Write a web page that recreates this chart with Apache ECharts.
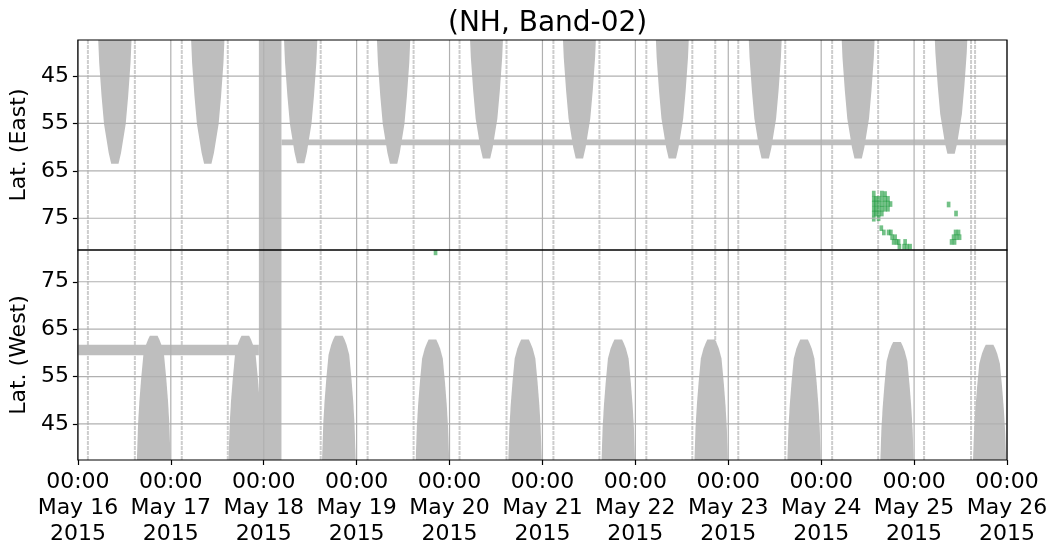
<!DOCTYPE html>
<html><head><meta charset="utf-8">
<script src="https://cdn.jsdelivr.net/npm/echarts@6/dist/echarts.min.js"></script>
<style>html,body{margin:0;padding:0;background:#fff}#c{width:1057px;height:556px}</style>
</head><body><div id="c"></div>
<script>
// ---------------- DATA ----------------
const TITLE = '(NH, Band-02)';
const X_START = '2015-05-16 00:00';
const X_END = '2015-05-26 00:00';
const LAT_RANGE = [37.4, 81.7];
const latTicks = [45, 55, 65, 75];
const xTickLabels = [
  '00:00\nMay 16\n2015', '00:00\nMay 17\n2015', '00:00\nMay 18\n2015', '00:00\nMay 19\n2015',
  '00:00\nMay 20\n2015', '00:00\nMay 21\n2015', '00:00\nMay 22\n2015', '00:00\nMay 23\n2015',
  '00:00\nMay 24\n2015', '00:00\nMay 25\n2015', '00:00\nMay 26\n2015'
];
const panelNames = ['Lat. (East)', 'Lat. (West)'];

// coverage lobes: [centre time, tip latitude]
const eastLobes = [
  ['2015-05-16 09:33', 63.5], ['2015-05-17 09:33', 63.5], ['2015-05-18 09:33', 63.4],
  ['2015-05-19 09:33', 63.5], ['2015-05-20 09:33', 62.4], ['2015-05-21 09:33', 62.4],
  ['2015-05-22 09:33', 62.4], ['2015-05-23 09:33', 62.4], ['2015-05-24 09:33', 62.4],
  ['2015-05-25 09:33', 61.4]
];
const westLobes = [
  ['2015-05-16 19:35', 63.6], ['2015-05-17 19:15', 63.6], ['2015-05-18 19:25', 63.6],
  ['2015-05-19 19:35', 62.8], ['2015-05-20 19:30', 62.8], ['2015-05-21 19:35', 62.8],
  ['2015-05-22 19:35', 62.8], ['2015-05-23 19:35', 62.8], ['2015-05-24 19:35', 62.3],
  ['2015-05-25 19:30', 61.7]
];
// lobe outline: [degrees from tip, half-width in hours]
const eastProfile = [[0, 0.95], [2.3, 1.6], [5.1, 2.15], [8.4, 2.8], [14.3, 3.44], [21.3, 4.05], [28, 4.4]];
const westProfile = [[0, 0.99], [0.8, 1.46], [1.9, 1.98], [4.0, 2.67], [8.9, 3.23], [13.8, 3.7], [18.6, 4.04], [28, 4.42]];

// continuous coverage blocks: [start, end, lat from, lat to]
const eastBlocks = [
  ['2015-05-17 22:45', '2015-05-18 04:35', 37.4, 81.7],
  ['2015-05-18 04:35', '2015-05-26 00:00', 58.4, 59.6]
];
const westBlocks = [
  ['2015-05-17 22:45', '2015-05-18 04:35', 37.4, 81.7],
  ['2015-05-16 00:00', '2015-05-17 22:45', 59.5, 61.7]
];
// thin full-height coverage traces (times)
const traceTimes = [
  '2015-05-16 02:35', '2015-05-16 14:43', '2015-05-17 02:50', '2015-05-17 14:43',
  '2015-05-18 14:43', '2015-05-19 02:50', '2015-05-19 14:43', '2015-05-20 02:35',
  '2015-05-20 14:43', '2015-05-21 02:50', '2015-05-21 14:43', '2015-05-22 02:50',
  '2015-05-22 14:43', '2015-05-22 20:38', '2015-05-23 02:35', '2015-05-23 14:43',
  '2015-05-24 02:50', '2015-05-24 14:43', '2015-05-25 02:35', '2015-05-25 14:43',
  '2015-05-25 15:45'
];
// detections (green): [time, lat]
const eastHits = [
  ['2015-05-24 13:35', 69.8], ['2015-05-24 13:35', 70.9], ['2015-05-24 13:35', 71.9], ['2015-05-24 13:35', 73.0],
  ['2015-05-24 13:35', 74.0], ['2015-05-24 13:35', 75.1],
  ['2015-05-24 14:05', 70.9], ['2015-05-24 14:05', 71.9], ['2015-05-24 14:05', 73.0], ['2015-05-24 14:05', 74.0],
  ['2015-05-24 14:50', 70.9], ['2015-05-24 14:50', 71.9], ['2015-05-24 14:50', 73.0], ['2015-05-24 14:50', 74.0], ['2015-05-24 14:50', 75.0],
  ['2015-05-24 15:40', 69.8], ['2015-05-24 15:40', 70.9], ['2015-05-24 15:40', 72.0], ['2015-05-24 15:40', 73.0], ['2015-05-24 15:40', 74.0],
  ['2015-05-24 16:30', 69.9], ['2015-05-24 16:30', 70.9], ['2015-05-24 16:30', 71.9], ['2015-05-24 16:30', 73.0],
  ['2015-05-24 17:15', 70.9], ['2015-05-24 17:15', 71.9], ['2015-05-24 17:15', 73.0],
  ['2015-05-24 17:55', 72.0],
  ['2015-05-24 15:32', 77.1], ['2015-05-24 16:11', 78.0], ['2015-05-24 17:25', 78.0], ['2015-05-24 18:00', 78.0],
  ['2015-05-24 18:19', 79.0], ['2015-05-24 19:06', 79.0],
  ['2015-05-24 18:43', 80.0], ['2015-05-24 19:29', 80.0], ['2015-05-24 20:00', 80.0],
  ['2015-05-24 20:12', 81.0], ['2015-05-24 21:25', 81.0], ['2015-05-24 22:12', 81.0], ['2015-05-24 22:58', 81.0],
  ['2015-05-24 21:41', 80.0],
  ['2015-05-25 08:55', 72.1], ['2015-05-25 10:50', 74.0],
  ['2015-05-25 10:43', 78.0], ['2015-05-25 11:29', 78.0],
  ['2015-05-25 10:12', 79.0], ['2015-05-25 10:58', 79.0], ['2015-05-25 11:45', 79.0],
  ['2015-05-25 09:41', 80.0], ['2015-05-25 10:27', 80.0]
];
const westHits = [['2015-05-19 20:23', 81.2]];

// ---------------- RENDER ----------------
const HOUR = 3600e3, DAY = 24 * HOUR;
function ms(s) {
  const [d, hm] = s.split(' ');
  const [Y, M, D] = d.split('-').map(Number);
  const [h, m] = (hm || '00:00').split(':').map(Number);
  return Date.UTC(Y, M - 1, D, h, m);
}
const X0 = ms(X_START), X1 = ms(X_END);
const FONT = 'DejaVu Sans';
const GRAY = '#bebebe';
const GREEN = 'rgba(40,160,70,0.65)';
const HIT_W = 0.95 * HOUR, HIT_H = 1.2;

function lobeSeries(idx, lobes, profile) {
  return {
    type: 'custom', xAxisIndex: idx, yAxisIndex: idx, clip: true, z: 2, silent: true,
    data: lobes.map(l => [ms(l[0]), l[1]]),
    renderItem: (p, api) => {
      const c = api.value(0), tip = api.value(1);
      const left = profile.map(([d, hw]) => api.coord([c - hw * HOUR, tip - d]));
      const right = profile.slice().reverse().map(([d, hw]) => api.coord([c + hw * HOUR, tip - d]));
      return { type: 'polygon', shape: { points: left.concat(right) }, style: { fill: GRAY, stroke: null } };
    }
  };
}
function blockSeries(idx, blocks) {
  return {
    type: 'custom', xAxisIndex: idx, yAxisIndex: idx, clip: true, z: 2, silent: true,
    data: blocks.map(b => [ms(b[0]), ms(b[1]), b[2], b[3]]),
    renderItem: (p, api) => {
      const a = api.coord([api.value(0), api.value(2)]);
      const b = api.coord([api.value(1), api.value(3)]);
      return { type: 'rect', shape: { x: Math.min(a[0], b[0]), y: Math.min(a[1], b[1]), width: Math.abs(b[0] - a[0]), height: Math.abs(b[1] - a[1]) }, style: { fill: GRAY } };
    }
  };
}
function traceSeries(idx) {
  return {
    type: 'custom', xAxisIndex: idx, yAxisIndex: idx, clip: true, z: 2, silent: true,
    data: traceTimes.map(t => [ms(t), LAT_RANGE[0]]),
    renderItem: (p, api) => {
      const a = api.coord([api.value(0), LAT_RANGE[0]]);
      const b = api.coord([api.value(0), LAT_RANGE[1]]);
      return { type: 'line', shape: { x1: a[0], y1: a[1], x2: b[0], y2: b[1] }, style: { stroke: '#cdcdcd', lineWidth: 2, lineDash: [4, 1] } };
    }
  };
}
function hitSeries(idx, hits) {
  return {
    type: 'custom', xAxisIndex: idx, yAxisIndex: idx, clip: true, z: 3, silent: true,
    data: hits.map(h => [ms(h[0]), h[1]]),
    renderItem: (p, api) => {
      const a = api.coord([api.value(0) - HIT_W / 2, api.value(1) - HIT_H / 2]);
      const b = api.coord([api.value(0) + HIT_W / 2, api.value(1) + HIT_H / 2]);
      return { type: 'rect', shape: { x: Math.min(a[0], b[0]), y: Math.min(a[1], b[1]), width: Math.abs(b[0] - a[0]), height: Math.abs(b[1] - a[1]) }, style: { fill: GREEN } };
    }
  };
}
function gridLineSeries(idx) {
  const data = latTicks.map(l => [X0, l, 0]).concat(xTickLabels.map((_, i) => [X0 + i * DAY, LAT_RANGE[0], 1]));
  return {
    type: 'custom', xAxisIndex: idx, yAxisIndex: idx, clip: false, z: 4, silent: true,
    data,
    renderItem: (p, api) => {
      const cs = p.coordSys;
      let sh;
      if (api.value(2) === 0) {
        const y = api.coord([X0, api.value(1)])[1];
        sh = { x1: cs.x, y1: y, x2: cs.x + cs.width, y2: y };
      } else {
        const x = api.coord([api.value(0), LAT_RANGE[0]])[0];
        sh = { x1: x, y1: cs.y, x2: x, y2: cs.y + cs.height };
      }
      return { type: 'line', shape: sh, style: { stroke: '#b0b0b0', lineWidth: 1.2 } };
    }
  };
}
function frameSeries(idx) {
  return {
    type: 'custom', xAxisIndex: idx, yAxisIndex: idx, clip: false, z: 5, silent: true,
    data: [[X0, LAT_RANGE[0]]],
    renderItem: (p, api) => {
      const cs = p.coordSys;
      return { type: 'rect', shape: { x: cs.x, y: cs.y, width: cs.width, height: cs.height }, style: { fill: null, stroke: '#000', lineWidth: 1.2 } };
    }
  };
}

const chart = echarts.init(document.getElementById('c'), null, { renderer: 'canvas' });
const yAxisCommon = (idx) => ({
  type: 'value', gridIndex: idx, min: LAT_RANGE[0], max: LAT_RANGE[1], inverse: idx === 0,
  name: panelNames[idx], nameLocation: 'middle', nameGap: 41,
  nameTextStyle: { fontFamily: FONT, fontSize: 22, color: '#000' },
  axisLine: { show: false },
  axisTick: { show: true, customValues: latTicks, length: 5, lineStyle: { color: '#000', width: 1.2 } },
  axisLabel: { customValues: latTicks, fontFamily: FONT, fontSize: 22, color: '#000', margin: 9 },
  splitLine: { show: false }
});
chart.setOption({
  animation: false,
  backgroundColor: '#fff',
  title: { text: TITLE, left: 443, top: 5, textStyle: { fontFamily: FONT, fontSize: 28, fontWeight: 'normal', color: '#000' } },
  grid: [
    { left: 77, right: 50, top: 40, height: 210 },
    { left: 77, right: 50, top: 250, height: 210 }
  ],
  xAxis: [0, 1].map(i => ({
    type: 'value', gridIndex: i, min: X0, max: X1, interval: DAY,
    axisLine: { show: false },
    axisTick: { show: i === 1, length: 5, lineStyle: { color: '#000', width: 1.2 } },
    axisLabel: {
      show: i === 1, fontFamily: FONT, fontSize: 22, color: '#000', lineHeight: 26, margin: 9,
      formatter: v => xTickLabels[Math.round((v - X0) / DAY)] || ''
    },
    splitLine: { show: false }
  })),
  yAxis: [yAxisCommon(0), yAxisCommon(1)],
  series: [
    traceSeries(0), traceSeries(1),
    lobeSeries(0, eastLobes, eastProfile), lobeSeries(1, westLobes, westProfile),
    blockSeries(0, eastBlocks), blockSeries(1, westBlocks),
    hitSeries(0, eastHits), hitSeries(1, westHits),
    gridLineSeries(0), gridLineSeries(1),
    frameSeries(0), frameSeries(1)
  ]
});
</script></body></html>
